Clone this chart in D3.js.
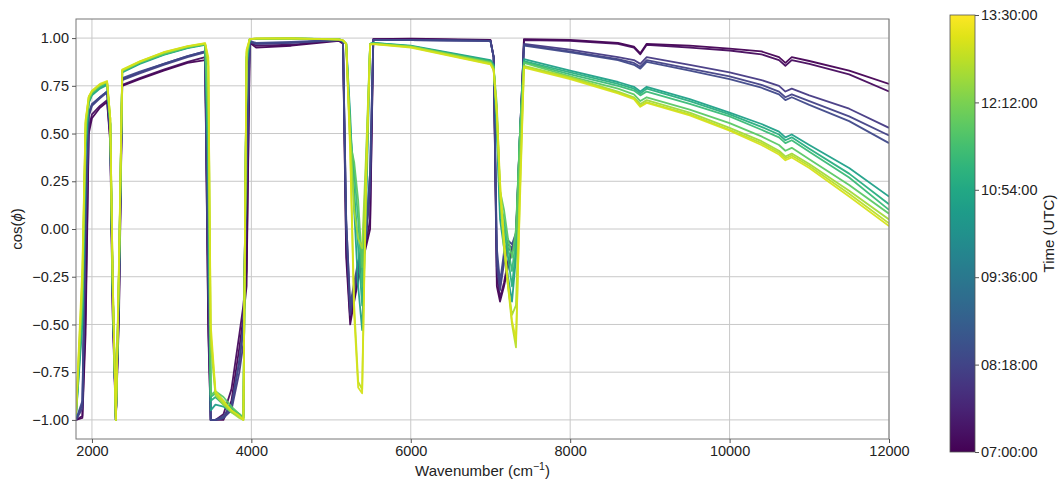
<!DOCTYPE html>
<html><head><meta charset="utf-8">
<script src="https://cdn.jsdelivr.net/npm/d3@7"></script>
<style>
body{margin:0;background:#fff;}
text{font-family:"Liberation Sans",Arial,sans-serif;fill:#222;}
</style></head>
<body><svg id="c" width="1062" height="486"></svg>
<script>
const wavenumbers = [1800,1880,1920,1960,2000,2100,2190,2230,2260,2300,2340,2380,2600,2900,3200,3420,3460,3490,3550,3650,3750,3850,3900,3940,3980,4060,4500,5100,5150,5190,5240,5290,5340,5390,5440,5490,5530,6000,7000,7040,7080,7120,7170,7220,7270,7320,7370,7420,8000,8600,8800,8880,8960,9500,10000,10400,10620,10700,10780,11000,11500,12000];
const times = ["07:00","07:10","08:05","08:15","08:25","10:40","11:05","11:25","11:50","12:35","12:50","13:05"];
const s0700 = [-1.00,-0.99,-0.55,0.50,0.58,0.635,0.665,0.45,-0.45,-1.00,-0.45,0.75,0.785,0.83,0.87,0.885,-0.55,-1.00,-1.00,-1.00,-0.90,-0.62,-0.46,-0.30,0.975,0.95,0.96,0.985,0.97,-0.15,-0.50,-0.38,-0.27,-0.18,-0.09,0.0,0.995,0.997,0.99,0.9,-0.3,-0.38,-0.3,-0.2,-0.12,-0.05,0.4,0.995,0.99,0.975,0.955,0.92,0.97,0.96,0.945,0.93,0.9,0.87,0.9,0.88,0.83,0.76];
const s0710 = [-1.00,-0.98,-0.45,0.53,0.60,0.645,0.675,0.47,-0.4,-1.00,-0.4,0.755,0.79,0.835,0.875,0.90,-0.5,-1.00,-1.00,-0.97,-0.84,-0.55,-0.40,-0.22,0.98,0.96,0.965,0.99,0.975,-0.1,-0.47,-0.36,-0.25,-0.16,-0.07,0.05,0.995,0.995,0.988,0.9,-0.25,-0.36,-0.28,-0.17,-0.1,-0.04,0.45,0.99,0.985,0.97,0.95,0.915,0.965,0.95,0.935,0.915,0.885,0.855,0.885,0.865,0.81,0.72];
const s0805 = [-1.00,-0.92,0.05,0.60,0.65,0.69,0.72,0.5,-0.35,-1.00,-0.35,0.785,0.82,0.865,0.905,0.93,-0.3,-1.00,-1.00,-0.99,-0.95,-0.75,-0.6,0.2,0.98,0.97,0.975,0.99,0.98,0.0,-0.45,-0.33,-0.22,-0.12,-0.05,0.2,0.99,0.99,0.985,0.9,-0.2,-0.32,-0.18,-0.1,-0.12,-0.05,0.5,0.97,0.94,0.9,0.885,0.865,0.9,0.86,0.82,0.78,0.75,0.72,0.735,0.7,0.63,0.53];
const s0815 = [-1.00,-0.94,-0.05,0.59,0.645,0.685,0.715,0.5,-0.35,-1.00,-0.33,0.78,0.815,0.86,0.9,0.925,-0.3,-1.00,-1.00,-0.98,-0.92,-0.7,-0.52,0.3,0.98,0.97,0.975,0.99,0.98,0.05,-0.42,-0.3,-0.2,-0.1,-0.03,0.3,0.99,0.99,0.985,0.9,-0.15,-0.3,-0.15,-0.08,-0.1,-0.03,0.5,0.965,0.93,0.89,0.87,0.85,0.885,0.84,0.8,0.755,0.72,0.69,0.705,0.67,0.59,0.49];
const s0825 = [-1.00,-0.9,0.1,0.61,0.655,0.69,0.72,0.5,-0.3,-1.00,-0.3,0.79,0.825,0.865,0.905,0.93,-0.25,-1.00,-1.00,-0.99,-0.94,-0.68,-0.5,0.4,0.985,0.975,0.98,0.99,0.98,0.05,-0.4,-0.28,-0.17,-0.08,0.0,0.3,0.99,0.99,0.985,0.9,-0.1,-0.28,-0.12,-0.06,-0.08,-0.02,0.5,0.96,0.925,0.885,0.86,0.84,0.875,0.83,0.785,0.74,0.705,0.675,0.69,0.65,0.565,0.45];
const s1040 = [-0.98,-0.5,0.4,0.66,0.7,0.735,0.755,0.55,-0.3,-1.00,-0.25,0.82,0.865,0.912,0.948,0.965,0.3,-0.95,-0.92,-0.93,-0.96,-0.98,-0.98,0.85,0.995,0.995,0.997,0.995,0.985,0.97,0.6,0.1,-0.3,-0.53,0.1,0.97,0.975,0.96,0.885,0.86,0.5,0.05,-0.1,-0.25,-0.38,-0.15,0.5,0.89,0.83,0.77,0.745,0.72,0.745,0.68,0.61,0.55,0.51,0.48,0.495,0.44,0.32,0.17];
const s1105 = [-0.98,-0.45,0.45,0.665,0.705,0.74,0.76,0.55,-0.3,-1.00,-0.22,0.825,0.87,0.915,0.95,0.967,0.4,-0.9,-0.88,-0.92,-0.95,-0.97,-0.99,0.88,0.995,0.996,0.997,0.994,0.985,0.97,0.55,0.2,-0.1,-0.4,0.2,0.97,0.975,0.958,0.88,0.855,0.55,0.1,0.0,-0.15,-0.3,-0.1,0.5,0.88,0.82,0.76,0.735,0.71,0.735,0.67,0.6,0.535,0.495,0.465,0.48,0.42,0.29,0.13];
const s1125 = [-0.97,-0.4,0.5,0.67,0.71,0.745,0.765,0.55,-0.3,-1.00,-0.2,0.825,0.87,0.915,0.95,0.968,0.5,-0.88,-0.86,-0.9,-0.94,-0.97,-0.99,0.9,0.995,0.996,0.997,0.994,0.985,0.97,0.5,0.3,0.05,-0.3,0.3,0.97,0.972,0.957,0.878,0.85,0.6,0.15,0.05,-0.1,-0.22,-0.05,0.5,0.875,0.81,0.75,0.725,0.7,0.72,0.655,0.59,0.52,0.48,0.45,0.465,0.405,0.27,0.10];
const s1150 = [-0.97,-0.35,0.52,0.675,0.715,0.75,0.77,0.55,-0.3,-1.00,-0.2,0.828,0.872,0.917,0.952,0.968,0.6,-0.87,-0.85,-0.88,-0.93,-0.97,-0.99,0.9,0.995,0.997,0.998,0.994,0.987,0.97,0.45,0.35,0.15,-0.2,0.35,0.97,0.972,0.956,0.874,0.85,0.65,0.2,0.1,-0.05,-0.15,0.0,0.5,0.87,0.8,0.735,0.705,0.67,0.69,0.625,0.555,0.485,0.44,0.41,0.425,0.365,0.23,0.08];
const s1235 = [-0.97,-0.3,0.55,0.69,0.72,0.755,0.77,0.58,-0.25,-1.00,-0.2,0.83,0.875,0.922,0.955,0.97,0.85,-0.6,-0.87,-0.92,-0.96,-0.99,-1.00,0.92,0.995,0.997,0.998,0.993,0.988,0.97,0.5,0.1,-0.05,-0.1,0.4,0.97,0.97,0.955,0.87,0.84,0.6,0.2,-0.1,-0.3,-0.45,-0.4,0.3,0.855,0.795,0.72,0.69,0.655,0.675,0.61,0.53,0.46,0.41,0.38,0.395,0.34,0.2,0.05];
const s1250 = [-0.97,-0.25,0.56,0.69,0.72,0.755,0.772,0.58,-0.25,-1.00,-0.18,0.832,0.877,0.925,0.957,0.972,0.88,-0.55,-0.86,-0.91,-0.95,-0.98,-1.00,0.93,0.995,0.997,0.998,0.993,0.988,0.97,0.45,-0.4,-0.8,-0.84,0.3,0.97,0.97,0.953,0.865,0.835,0.6,0.2,-0.1,-0.3,-0.5,-0.62,0.2,0.85,0.79,0.715,0.685,0.645,0.665,0.6,0.52,0.45,0.4,0.37,0.385,0.33,0.185,0.03];
const s1305 = [-0.96,-0.2,0.57,0.695,0.725,0.76,0.775,0.58,-0.25,-1.00,-0.15,0.835,0.878,0.926,0.958,0.973,0.9,-0.5,-0.85,-0.9,-0.95,-0.98,-1.00,0.94,0.995,0.998,0.998,0.992,0.988,0.97,0.4,-0.45,-0.83,-0.86,0.25,0.965,0.968,0.95,0.862,0.83,0.62,0.25,-0.05,-0.28,-0.48,-0.58,0.15,0.845,0.785,0.71,0.68,0.64,0.66,0.595,0.515,0.44,0.39,0.36,0.375,0.32,0.17,0.015];
const seriesValues = [s0700,s0710,s0805,s0815,s0825,s1040,s1105,s1125,s1150,s1235,s1250,s1305];
const xTicks = [2000,4000,6000,8000,10000,12000];
const yTicks = [-1,-0.75,-0.5,-0.25,0,0.25,0.5,0.75,1];
const cbarTicks = ["07:00:00","08:18:00","09:36:00","10:54:00","12:12:00","13:30:00"];

const toMin = s => { const p = s.split(":").map(Number); return p[0]*60 + p[1] + (p[2]||0)/60; };
const svg = d3.select("#c");
const L=76, R=889, T=19, B=439;
const x = d3.scaleLinear().domain([1800,12000]).range([L,R]);
const y = d3.scaleLinear().domain([-1.1,1.1]).range([B,T]);
const tScale = d3.scaleLinear().domain([toMin("07:00:00"), toMin("13:30:00")]);
const color = m => d3.interpolateViridis(tScale(m));

// grid
const g = svg.append("g");
g.selectAll(".vg").data(xTicks).join("line").attr("x1",d=>x(d)).attr("x2",d=>x(d)).attr("y1",T).attr("y2",B).attr("stroke","#c8c8c8").attr("stroke-width",1);
g.selectAll(".hg").data(yTicks).join("line").attr("x1",L).attr("x2",R).attr("y1",d=>y(d)).attr("y2",d=>y(d)).attr("stroke","#c8c8c8").attr("stroke-width",1);

svg.append("clipPath").attr("id","clip").append("rect").attr("x",L).attr("y",T).attr("width",R-L).attr("height",B-T);
const line = d3.line().x((d,i)=>x(wavenumbers[i])).y(d=>y(d));
const lg = svg.append("g").attr("clip-path","url(#clip)");
seriesValues.forEach((vals,k)=>{
  lg.append("path").attr("d",line(vals)).attr("fill","none")
    .attr("stroke",color(toMin(times[k]))).attr("stroke-width",1.8).attr("stroke-linejoin","round").attr("opacity",0.95);
});

// frame
svg.append("rect").attr("x",L).attr("y",T).attr("width",R-L).attr("height",B-T).attr("fill","none").attr("stroke","#777").attr("stroke-width",1);

// axes
const xa = svg.append("g").attr("transform",`translate(0,${B})`).call(d3.axisBottom(x).tickValues(xTicks).tickFormat(d3.format("d")).tickSize(4).tickPadding(3));
const ya = svg.append("g").attr("transform",`translate(${L},0)`).call(d3.axisLeft(y).tickValues(yTicks).tickFormat(d3.format(".2f")).tickSize(4).tickPadding(3));
[xa,ya].forEach(a=>{a.select(".domain").remove();a.selectAll("line").attr("stroke","#555");a.selectAll("text").attr("font-size",14.5).attr("fill","#222").attr("font-family","Liberation Sans, Arial, sans-serif");});

svg.append("text").attr("x",(L+R)/2).attr("y",476).attr("text-anchor","middle").attr("font-size",15)
  .html('Wavenumber (cm<tspan dy="-6" font-size="10.5">−1</tspan><tspan dy="6">)</tspan>');
svg.append("text").attr("transform",`translate(22,${y(0)}) rotate(-90)`).attr("text-anchor","middle").attr("font-size",15)
  .html('cos(<tspan font-style="italic">ϕ</tspan>)');

// colorbar
const cx=950, cw=25, ct=15, cb=452;
const defs = svg.append("defs");
const grad = defs.append("linearGradient").attr("id","vir").attr("x1",0).attr("y1",1).attr("x2",0).attr("y2",0);
d3.range(0,1.0001,0.05).forEach(t=>grad.append("stop").attr("offset",t).attr("stop-color",d3.interpolateViridis(t)));
svg.append("rect").attr("x",cx).attr("y",ct).attr("width",cw).attr("height",cb-ct).attr("fill","url(#vir)").attr("stroke","#555").attr("stroke-width",0.8);
const cy = d3.scaleLinear().domain([toMin("07:00:00"),toMin("13:30:00")]).range([cb,ct]);
const ca = svg.append("g").attr("transform",`translate(${cx+cw},0)`).call(d3.axisRight(cy).tickValues(cbarTicks.map(toMin)).tickFormat((d,i)=>cbarTicks[i]).tickSize(4).tickPadding(2));
ca.select(".domain").remove();
ca.selectAll("line").attr("stroke","#555");
ca.selectAll("text").attr("font-size",14.5).attr("fill","#222").attr("font-family","Liberation Sans, Arial, sans-serif");
svg.append("text").attr("transform",`translate(1054,${(ct+cb)/2}) rotate(-90)`).attr("text-anchor","middle").attr("font-size",15).text("Time (UTC)");
</script></body></html>
